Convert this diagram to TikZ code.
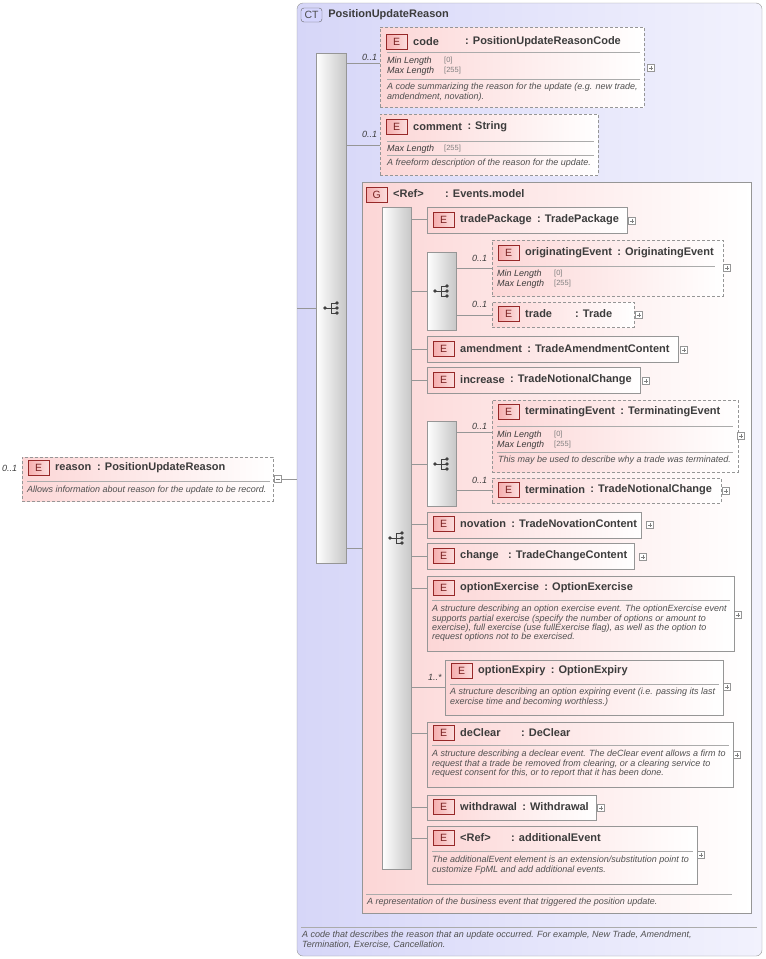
\documentclass[tikz,border=0pt]{standalone}
\usepackage{fontspec}
\setmainfont{Liberation Sans}
\usetikzlibrary{positioning, calc}

\definecolor{ctL}{RGB}{214,214,248}
\definecolor{ctR}{RGB}{242,242,253}
\definecolor{elL}{RGB}{252,214,214}
\definecolor{badgeL}{RGB}{240,120,120}
\definecolor{badgeD}{RGB}{150,40,40}
\definecolor{lineC}{RGB}{150,150,150}
\definecolor{txt}{RGB}{60,60,60}

\tikzset{
  box/.style={draw=lineC, inner sep=0pt, outer sep=0pt, anchor=north west},
  elem/.style={box, left color=elL, right color=white},
  opt/.style={elem, dashed, dash pattern=on 3pt off 2pt},
  bar/.style={box, left color=white, right color=black!22},
  badge/.style={draw=badgeD, left color=badgeL!60, right color=badgeL!25, minimum width=21pt, minimum height=15pt, inner sep=0pt, font=\fontsize{10.5}{10}\selectfont, text=badgeD!80!black},
  hname/.style={inner sep=0pt, font=\bfseries\fontsize{11}{12}\selectfont, text=txt, anchor=west},
  small/.style={inner sep=0pt, yshift=-2pt, font=\itshape\fontsize{9}{10.3}\selectfont, text=txt!90, anchor=north west, align=left},
  facet/.style={inner sep=0pt, font=\itshape\fontsize{9}{10}\selectfont, text=txt, anchor=west},
  fval/.style={inner sep=0pt, font=\fontsize{7.5}{8}\selectfont, text=gray, anchor=west},
  occ/.style={inner sep=0pt, font=\itshape\fontsize{9}{9}\selectfont, text=txt, anchor=south west},
  sep/.style={draw=lineC!80},
  conn/.style={draw=lineC, line width=0.6pt},
  plusbox/.style={draw=lineC, fill=white, minimum size=7pt, inner sep=0pt},
}

% rectangle node from two corners
\newcommand\rbox[6]{\node[#6, minimum width={#4-#2}, minimum height={#5-#3}] (#1) at (#2,#3) {};}
% header: x, y, badge, name, type x, type
\newcommand\hdr[6]{%
  \node[badge, anchor=west] at ({#1+6},#2) {#3};
  \node[hname] (hn) at ({#1+33},#2) {#4};
  \path let \p1=(hn.east) in node[hname] at ({max(#5,\x1+5)},#2) {: #6};}
\newcommand\plus[2]{\node[plusbox] at (#1,#2) {};
  \draw[gray] ({#1-2.2},#2) -- ({#1+2.2},#2) (#1,{#2-2.2}) -- (#1,{#2+2.2});}
\newcommand\seqicon[2]{%
  \fill[black!75] ({#1-8},#2) circle (1.8pt);
  \draw[black!75, line width=0.8pt] ({#1-8},#2) -- ({#1-2},#2)
     ({#1-2},{#2-5}) -- ({#1-2},{#2+5})
     ({#1-2},{#2-5}) -- ({#1+3},{#2-5}) ({#1+3},#2) -- ({#1-2},#2) ({#1-2},{#2+5}) -- ({#1+3},{#2+5});
  \foreach \d in {-5,0,5} \fill[black!75] ({#1+4},{#2+\d}) circle (1.9pt);}

\begin{document}
\begin{tikzpicture}[x=1pt, y=-1pt]
  \useasboundingbox (0,0) rectangle (766,959);

  % complex type
  \rbox{ct}{297}{3}{762}{956}{box, left color=ctL, right color=ctR, rounded corners=6pt}
  \node[draw=black!60, fill=ctL!70!blue!40, rounded corners=3pt, minimum width=21pt, minimum height=14pt, inner sep=0pt, font=\fontsize{10.5}{10}\selectfont, text=black!70] (ctbadge) at (311.5,15) {CT};
  \node[hname, right=6pt of ctbadge] {PositionUpdateReason};
  \draw[sep] (301,927) -- (757,927);
  \node[small] at (302,929) {A code that describes the reason that an update occurred. For example, New Trade, Amendment,\\[-1pt]Termination, Exercise, Cancellation.};

  % root element
  \rbox{reason}{22}{457}{273}{501}{opt}
  \hdr{22}{468}{E}{reason}{97}{PositionUpdateReason}
  \draw[sep] (27,481) -- (270,481);
  \node[small] at (27,484) {Allows information about reason for the update to be record.};
  \node[occ] at (2,472) {0..1};
  \node[plusbox] (minus) at (278,479) {};
  \draw[gray] (275.8,479) -- (280.2,479);
  \coordinate (ctin) at (297,479);
  \draw[conn] (minus.east) -- (ctin);

  % sequence
  \rbox{seq1}{316}{53}{346}{563}{bar}
  \seqicon{333}{308}
  \draw[conn] (297,308) -- (seq1.west |- 0,308);

  \rbox{code}{380}{27}{644}{107}{opt}
  \hdr{380}{42}{E}{code}{465}{PositionUpdateReasonCode}
  \draw[sep] (387,52) -- (640,52);
  \node[facet] at (387,61) {Min Length}; \node[fval] at (444,61) {[0]};
  \node[facet] at (387,71) {Max Length}; \node[fval] at (444,71) {[255]};
  \draw[sep] (387,79) -- (640,79);
  \node[small] at (387,81) {A code summarizing the reason for the update (e.g. new trade,\\[-1pt]amdendment, novation).};
  \plus{651}{68}
  \node[occ] at (362,61) {0..1};
  \draw[conn] (seq1.east |- 0,63) -- (code.west |- 0,63);

  \rbox{comment}{380}{114}{598}{175}{opt}
  \hdr{380}{127}{E}{comment}{0}{String}
  \draw[sep] (387,141) -- (594,141);
  \node[facet] at (387,149) {Max Length}; \node[fval] at (444,149) {[255]};
  \draw[sep] (387,155) -- (594,155);
  \node[small] at (387,157) {A freeform description of the reason for the update.};
  \node[occ] at (362,138) {0..1};
  \draw[conn] (seq1.east |- 0,145) -- (comment.west |- 0,145);

  % group
  \rbox{grp}{362}{182}{751}{913}{elem}
  \node[badge, anchor=west] at (366,195) {G};
  \node[hname] at (393,194) {<Ref>};
  \node[hname] at (445,194) {: Events.model};
  \draw[sep] (366,894) -- (732,894);
  \node[small] at (367,896) {A representation of the business event that triggered the position update.};
  \draw[conn] (seq1.east |- 0,548) -- (grp.west |- 0,548);

  \rbox{seq2}{382}{207}{411}{869}{bar}
  \seqicon{398}{538}

  \rbox{tradePackage}{427}{207}{627}{233}{elem}
  \hdr{427}{220}{E}{tradePackage}{0}{TradePackage}
  \plus{632}{221}

  \rbox{choice1}{427}{252}{456}{330}{bar}
  \seqicon{443}{291}
  \rbox{originatingEvent}{492}{240}{723}{296}{opt}
  \hdr{492}{253}{E}{originatingEvent}{0}{OriginatingEvent}
  \draw[sep] (497,266) -- (715,266);
  \node[facet] at (497,274) {Min Length}; \node[fval] at (554,274) {[0]};
  \node[facet] at (497,284) {Max Length}; \node[fval] at (554,284) {[255]};
  \plus{727}{268}
  \node[occ] at (472,262) {0..1};
  \rbox{trade}{492}{302}{634}{327}{opt}
  \hdr{492}{314}{E}{trade}{575}{Trade}
  \plus{639}{315}
  \node[occ] at (472,308) {0..1};
  \draw[conn] (choice1.east |- 0,268) -- (originatingEvent.west |- 0,268);
  \draw[conn] (choice1.east |- 0,315) -- (trade.west |- 0,315);

  \rbox{amendment}{427}{336}{678}{362}{elem}
  \hdr{427}{349}{E}{amendment}{0}{TradeAmendmentContent}
  \plus{684}{350}
  \rbox{increase}{427}{367}{640}{393}{elem}
  \hdr{427}{380}{E}{increase}{0}{TradeNotionalChange}
  \plus{646}{381}

  \rbox{choice2}{427}{421}{456}{506}{bar}
  \seqicon{443}{464}
  \rbox{terminatingEvent}{492}{400}{738}{472}{opt}
  \hdr{492}{412}{E}{terminatingEvent}{0}{TerminatingEvent}
  \draw[sep] (497,426) -- (733,426);
  \node[facet] at (497,435) {Min Length}; \node[fval] at (554,435) {[0]};
  \node[facet] at (497,445) {Max Length}; \node[fval] at (554,445) {[255]};
  \draw[sep] (497,452) -- (733,452);
  \node[small] at (498,454) {This may be used to describe why a trade was terminated.};
  \plus{741}{436}
  \node[occ] at (472,430) {0..1};
  \rbox{termination}{492}{478}{721}{503}{opt}
  \hdr{492}{490}{E}{termination}{0}{TradeNotionalChange}
  \plus{726}{491}
  \node[occ] at (472,484) {0..1};
  \draw[conn] (choice2.east |- 0,432) -- (terminatingEvent.west |- 0,432);
  \draw[conn] (choice2.east |- 0,490) -- (termination.west |- 0,490);

  \rbox{novation}{427}{512}{641}{538}{elem}
  \hdr{427}{524}{E}{novation}{0}{TradeNovationContent}
  \plus{650}{525}
  \rbox{change}{427}{543}{634}{569}{elem}
  \hdr{427}{556}{E}{change}{508}{TradeChangeContent}
  \plus{643}{557}

  \rbox{optionExercise}{427}{576}{734}{651}{elem}
  \hdr{427}{588}{E}{optionExercise}{0}{OptionExercise}
  \draw[sep] (432,600) -- (730,600);
  \node[small] at (432,603) {A structure describing an option exercise event. The optionExercise event\\[-1pt]supports partial exercise (specify the number of options or amount to\\[-1pt]exercise), full exercise (use fullExercise flag), as well as the option to\\[-1pt]request options not to be exercised.};
  \plus{738}{615}

  \rbox{optionExpiry}{445}{660}{723}{715}{elem}
  \hdr{445}{671}{E}{optionExpiry}{0}{OptionExpiry}
  \draw[sep] (450,684) -- (719,684);
  \node[small] at (450,686) {A structure describing an option expiring event (i.e. passing its last\\[-1pt]exercise time and becoming worthless.)};
  \plus{727}{687}
  \node[occ] at (428,681) {1..*};

  \rbox{deClear}{427}{722}{733}{787}{elem}
  \hdr{427}{733}{E}{deClear}{521}{DeClear}
  \draw[sep] (432,745) -- (729,745);
  \node[small] at (432,748) {A structure describing a declear event. The deClear event allows a firm to\\[-1pt]request that a trade be removed from clearing, or a clearing service to\\[-1pt]request consent for this, or to report that it has been done.};
  \plus{737}{755}

  \rbox{withdrawal}{427}{795}{596}{820}{elem}
  \hdr{427}{807}{E}{withdrawal}{0}{Withdrawal}
  \plus{601}{808}

  \rbox{additionalEvent}{427}{826}{697}{884}{elem}
  \hdr{427}{838}{E}{<Ref>}{511}{additionalEvent}
  \draw[sep] (432,851) -- (693,851);
  \node[small] at (432,854) {The additionalEvent element is an extension/substitution point to\\[-1pt]customize FpML and add additional events.};
  \plus{701}{855}

  % links from the sequence
  \foreach \n/\y in {tradePackage/219, choice1/291, amendment/349, increase/380, choice2/464,
                     novation/524, change/556, optionExercise/588, optionExpiry/687, deClear/733,
                     withdrawal/807, additionalEvent/838}
    \draw[conn] (seq2.east |- 0,\y) -- (\n.west |- 0,\y);
\end{tikzpicture}
\end{document}
